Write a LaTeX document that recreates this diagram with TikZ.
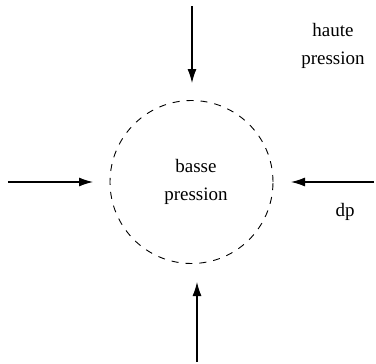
\documentclass[tikz,border=0pt]{standalone}
\usepackage{fontspec}
\setmainfont{Liberation Serif}
\usetikzlibrary{arrows.meta}
\begin{document}
\begin{tikzpicture}[x=1pt,y=-1pt,
  flow/.style={line width=1.1pt,-{Latex[length=14pt,width=9pt]}},
  zone/.style={draw,dashed,dash pattern=on 7pt off 7pt,line width=0.9pt},
  lbl/.style={font=\fontsize{19}{28}\selectfont,align=center,inner sep=0pt}]
  \useasboundingbox (0,0) rectangle (376,364);
  % low-pressure region
  \node[zone,circle,minimum size=163pt,inner sep=0pt] (zone) at (191.5,182) {};
  \node[lbl] (inside) at (196,182) {basse\\pression};
  % incoming pressure arrows
  \coordinate (n) at (192,6);
  \coordinate (s) at (197,362);
  \coordinate (w) at (8,182);
  \coordinate (e) at (374,182);
  \coordinate (nt) at (192,83);
  \coordinate (st) at (197,282);
  \coordinate (wt) at (93,182);
  \coordinate (et) at (291,182);
  \draw[flow] (n) -- (nt);
  \draw[flow] (s) -- (st);
  \draw[flow] (w) -- (wt);
  \draw[flow] (e) -- (et);
  \node[lbl] (outside) at (333,46) {haute\\pression};
  \node[lbl] (dp) at (345,212) {dp};
\end{tikzpicture}
\end{document}
